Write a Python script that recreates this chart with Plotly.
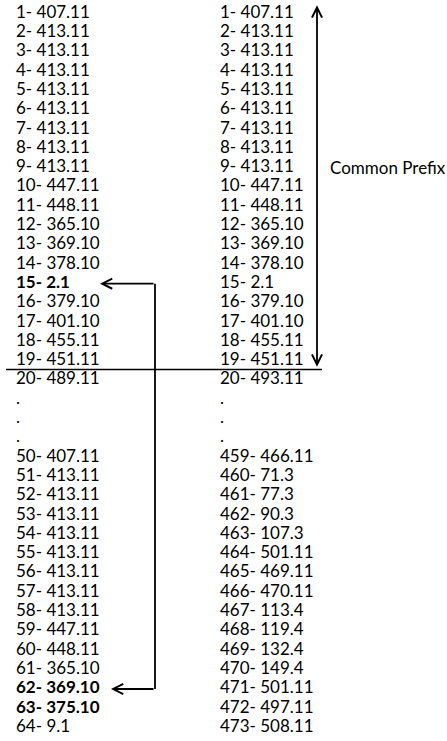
import plotly.graph_objects as go

# ---- data ----
left_index = list(range(1, 21)) + [None, None, None] + list(range(50, 65))
left_values = ["407.11", "413.11", "413.11", "413.11", "413.11", "413.11", "413.11",
               "413.11", "413.11", "447.11", "448.11", "365.10", "369.10", "378.10",
               "2.1", "379.10", "401.10", "455.11", "451.11", "489.11",
               None, None, None,
               "407.11", "413.11", "413.11", "413.11", "413.11", "413.11", "413.11",
               "413.11", "413.11", "447.11", "448.11", "365.10", "369.10", "375.10", "9.1"]
left_bold = [15, 62, 63]

right_index = list(range(1, 21)) + [None, None, None] + list(range(459, 474))
right_values = ["407.11", "413.11", "413.11", "413.11", "413.11", "413.11", "413.11",
                "413.11", "413.11", "447.11", "448.11", "365.10", "369.10", "378.10",
                "2.1", "379.10", "401.10", "455.11", "451.11", "493.11",
                None, None, None,
                "466.11", "71.3", "77.3", "90.3", "107.3", "501.11", "469.11", "470.11",
                "113.4", "119.4", "132.4", "149.4", "501.11", "497.11", "508.11"]

prefix_label = "Common Prefix"
prefix_end = 19          # last entry of the common prefix
link_from, link_to = 15, 62  # left entries joined by the bracket arrow

# ---- layout helpers ----
FONT = "Lato, 'Open Sans', sans-serif"
INK = "#000000"
W, H = 447, 741
ROW_PX, TOP_PX = 19.3, 13.5
y0 = -TOP_PX / ROW_PX
y1 = y0 + H / ROW_PX
LEFT_X, RIGHT_X = 16, 220
FS = 17


def labels(idx, vals, bold=()):
    out = []
    for i, v in zip(idx, vals):
        if i is None:
            out.append(".")
        else:
            s = f"{i}- {v}"
            out.append(f"<b>{s}</b>" if i in bold else s)
    return out


rows = list(range(len(left_index)))
row_of_left = {i: r for r, i in enumerate(left_index) if i is not None}

fig = go.Figure()
fig.add_trace(go.Scatter(x=[LEFT_X] * len(rows), y=rows, mode="text",
                         text=labels(left_index, left_values, left_bold),
                         textposition="middle right",
                         textfont=dict(family=FONT, size=FS, color=INK),
                         hoverinfo="skip", showlegend=False))
fig.add_trace(go.Scatter(x=[RIGHT_X] * len(rows), y=rows, mode="text",
                         text=labels(right_index, right_values),
                         textposition="middle right",
                         textfont=dict(family=FONT, size=FS, color=INK),
                         hoverinfo="skip", showlegend=False))

# Common prefix label
fig.add_annotation(x=328, y=8, text=prefix_label, showarrow=False,
                   xanchor="left", yanchor="middle",
                   font=dict(family=FONT, size=FS, color=INK))

# double-headed vertical arrow
r_end = row_of_left[prefix_end]
fig.add_annotation(x=317, y=r_end + 0.3, ax=317, ay=-0.5,
                   xref="x", yref="y", axref="x", ayref="y",
                   showarrow=True, arrowhead=5, startarrowhead=5,
                   arrowside="end+start", arrowsize=1.1, startarrowsize=1.1,
                   arrowwidth=1.8, arrowcolor=INK, text="")

# horizontal separator under the prefix
fig.add_shape(type="line", x0=6, x1=322, y0=r_end + 0.45, y1=r_end + 0.45,
              xref="x", yref="y", line=dict(color=INK, width=1.5))

# bracket connector between left entries
ra, rb = row_of_left[link_from], row_of_left[link_to]
fig.add_shape(type="line", x0=155, x1=155, y0=ra, y1=rb,
              xref="x", yref="y", line=dict(color=INK, width=1.8))
for r, tip in ((ra, 100), (rb, 111)):
    fig.add_annotation(x=tip, y=r, ax=155, ay=r,
                       xref="x", yref="y", axref="x", ayref="y",
                       showarrow=True, arrowhead=5, arrowsize=1.1,
                       arrowwidth=1.8, arrowcolor=INK, text="")

fig.update_xaxes(range=[0, W], visible=False, fixedrange=True)
fig.update_yaxes(range=[y1, y0], visible=False, fixedrange=True)
fig.update_layout(width=W, height=H, margin=dict(l=0, r=0, t=0, b=0),
                  paper_bgcolor="white", plot_bgcolor="white")

fig.write_html("out.html", config={"displayModeBar": False},
               post_script="document.body.style.margin='0';"
                           "document.body.style.overflow='hidden';")
